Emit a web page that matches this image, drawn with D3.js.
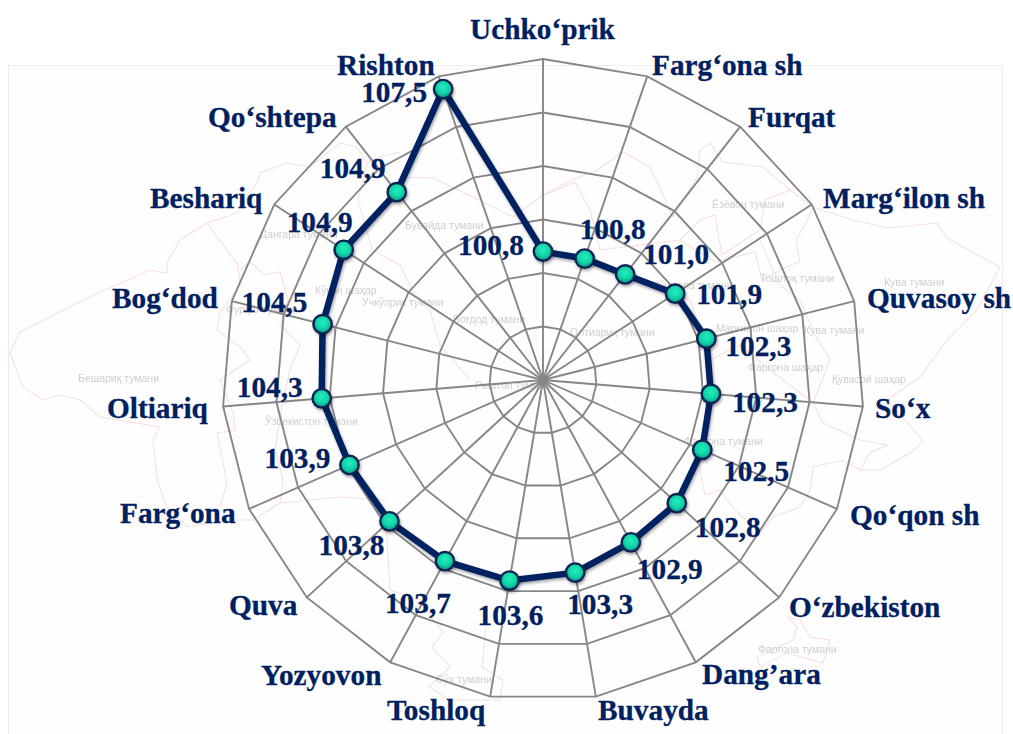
<!DOCTYPE html>
<html><head><meta charset="utf-8">
<script src="https://cdnjs.cloudflare.com/ajax/libs/d3/7.8.5/d3.min.js"></script>
<style>html,body{margin:0;padding:0;background:#fff;overflow:hidden}svg{display:block}</style>
</head><body>
<svg id="chart" width="1013" height="734"></svg>
<script>
// ---- data ----
const categories = ["Uchko‘prik","Farg‘ona sh","Furqat","Marg‘ilon sh","Quvasoy sh","So‘x","Qo‘qon sh","O‘zbekiston","Dang’ara","Buvayda","Toshloq","Yozyovon","Quva","Farg‘ona","Oltiariq","Bog‘dod","Beshariq","Qo‘shtepa","Rishton"];
const values = [100.8,100.8,101.0,101.9,102.3,102.3,102.5,102.8,102.9,103.3,103.6,103.7,103.8,103.9,104.3,104.5,104.9,104.9,107.5];
const ringTicks = [96,98,100,102,104,106,108];
const valueLabels = ["100,8","100,8","101,0","101,9","102,3","102,3","102,5","102,8","102,9","103,3","103,6","103,7","103,8","103,9","104,3","104,5","104,9","104,9","107,5"];
// ---- layout (label placement, separate from data) ----
const valueLabelOffsets = [[-85,3],[-5,-20],[18,-10],[21,10],[19,17],[21,18],[21,31],[18,34],[6,37],[-8,41],[-32,44],[-60,52],[-71,34],[-85,3],[-85,-1],[-81,-12],[-57,-18],[-77,-14],[-82,13]];
const catLabelPos = [[470,39],[652,75],[748,127],[823,208],[867,308],[875,418],[850,525],[789,617],[702,684],[598,720],[387,720],[261,685],[229,615],[120,523],[107,418],[112,308],[150,208],[208,127],[337,75]];
const cx = 543, cy = 380, outerR = 321;
// ---- decorative background map (faint) ----
const mapLines = [
 [[10,353],[20,332],[83,300],[150,270],[167,273],[167,263],[180,240],[207,223],[237,213],[257,183],[260,173],[287,163],[310,167],[340,143],[357,147],[367,163],[380,157],[400,152]],
 [[10,353],[23,387],[43,400],[60,395],[80,400],[100,417],[160,427],[153,440],[157,480],[167,507],[187,527],[230,520],[253,520],[280,503],[340,497],[385,500]],
 [[220,507],[227,483],[217,433],[235,430],[233,413],[220,380],[250,360],[240,347],[217,330],[220,313],[240,285],[238,265],[207,223]],
 [[240,270],[250,262],[265,275],[280,272],[288,300],[280,325],[300,345],[290,370],[283,400],[275,450],[283,480],[280,503]],
 [[367,163],[358,200],[372,250],[400,265],[412,290],[430,310],[440,345],[470,380]],
 [[400,177],[433,178],[473,197],[513,217],[540,197],[567,182],[597,170],[623,152],[650,167],[673,217],[697,177],[700,150],[710,143],[723,162],[763,167],[790,190],[813,207],[853,220],[887,228],[937,223],[947,238],[963,247],[1000,267],[977,310],[947,340],[920,377],[887,400],[920,437],[923,442],[910,453],[880,470],[860,470],[843,460],[813,467],[810,490],[800,507],[773,517],[760,533]],
 [[540,197],[575,182],[590,210],[600,250],[640,245],[680,240],[700,220],[715,215],[722,255],[760,230],[765,200],[790,190]],
 [[680,240],[715,262],[755,252],[762,280],[790,265],[800,262],[796,240],[805,225],[813,207]],
 [[760,240],[780,285],[800,300],[815,335],[830,360],[813,403],[823,423],[860,440],[887,445],[870,453],[860,470]],
 [[813,403],[770,370],[740,345],[710,360],[690,300],[650,285]],
 [[696,440],[700,470],[705,495],[720,490],[735,510],[760,533]],
 [[787,617],[797,627],[793,640],[757,657],[760,667],[787,653],[823,663],[830,640],[810,637],[800,620],[787,617]],
 [[386,520],[390,590],[420,600],[443,633],[432,647],[450,667],[429,687],[450,700],[500,700],[503,680],[482,667],[486,627]]
];
const mapText = ["Бешариқ тумани","Дангара тумани","Фурқат тумани","Кўқон шаҳар","Учкўприк тумани","Бувайда тумани","Боғдод тумани","Риштон тумани","Олтиариқ тумани","Ёзёвон тумани","Тошлоқ тумани","Кува тумани","Кува тумани","Марғилон шаҳар","Фарғона шаҳар","Қувасой шаҳар","Фарғона тумани","Фарғона тумани","Сўх тумани","Ўзбекистон тумани","Қўштепа тумани"];
const mapTextPos = [[78,382],[260,238],[226,313],[315,294],[362,306],[405,229],[453,323],[475,389],[570,336],[712,208],[760,282],[884,286],[804,334],[716,332],[748,371],[832,383],[684,445],[758,653],[436,683],[265,425],[653,289]];

const svg = d3.select("#chart");
const defs = svg.append("defs");
const grad = defs.append("radialGradient").attr("id","mk").attr("cx","50%").attr("cy","40%").attr("r","58%");
grad.append("stop").attr("offset","0%").attr("stop-color","#26ecc0");
grad.append("stop").attr("offset","60%").attr("stop-color","#10d4a6");
grad.append("stop").attr("offset","100%").attr("stop-color","#06968a");
const shadow = defs.append("filter").attr("id","sh").attr("x","-50%").attr("y","-50%").attr("width","200%").attr("height","200%");
shadow.append("feDropShadow").attr("dx",1).attr("dy",2).attr("stdDeviation",1.8).attr("flood-color","#000").attr("flood-opacity",0.35);
const soft = defs.append("filter").attr("id","soft");
soft.append("feGaussianBlur").attr("stdDeviation",0.45);

// frame
svg.append("rect").attr("x",8.5).attr("y",65.5).attr("width",994).attr("height",700)
  .attr("fill","#fefefe").attr("stroke","#ececec").attr("stroke-width",1);

// map
const mapG = svg.append("g").attr("filter","url(#soft)");
const mapLine = d3.line().curve(d3.curveLinear);
mapG.selectAll("path").data(mapLines).join("path")
  .attr("d",d=>mapLine(d)).attr("fill","none").attr("stroke","#f8dfdf").attr("stroke-width",1.1);
mapG.selectAll("text").data(mapText).join("text")
  .attr("x",(d,i)=>mapTextPos[i][0]).attr("y",(d,i)=>mapTextPos[i][1])
  .attr("font-family","Liberation Sans, Arial, sans-serif").attr("font-size",10.5)
  .attr("fill","#cfcfcf").text(d=>d);

// scales
const angle = d3.scaleLinear().domain([0,categories.length]).range([0,2*Math.PI]);
const radius = d3.scaleLinear().domain([96,108]).range([0,outerR]);
const g = svg.append("g").attr("transform",`translate(${cx},${cy})`);
const pt = (i,v)=>{const a=angle(i),r=radius(v);return [r*Math.sin(a),-r*Math.cos(a)];};

// grid
const ring = d3.lineRadial().angle((d,i)=>angle(i)).curve(d3.curveLinearClosed);
g.selectAll("path.ring").data(ringTicks.slice(1)).join("path").attr("class","ring")
  .attr("d",t=>ring.radius(radius(t))(categories))
  .attr("fill","none").attr("stroke","#868686").attr("stroke-width",1.9);
g.selectAll("line.spoke").data(categories).join("line").attr("class","spoke")
  .attr("x1",0).attr("y1",0)
  .attr("x2",(d,i)=>pt(i,108)[0]).attr("y2",(d,i)=>pt(i,108)[1])
  .attr("stroke","#868686").attr("stroke-width",1.9);

// series
const series = d3.lineRadial().angle((d,i)=>angle(i)).radius(d=>radius(d)).curve(d3.curveLinearClosed);
g.append("path").attr("d",series(values)).attr("fill","none").attr("stroke","#002060")
  .attr("stroke-width",6.5).attr("stroke-linejoin","round").attr("filter","url(#sh)");
g.selectAll("circle").data(values).join("circle")
  .attr("cx",(d,i)=>pt(i,d)[0]).attr("cy",(d,i)=>pt(i,d)[1]).attr("r",9.2)
  .attr("fill","url(#mk)").attr("stroke","#0d2454").attr("stroke-width",2.4).attr("filter","url(#sh)");

// value labels
const font = "Liberation Serif, Times New Roman, serif";
g.selectAll("text.val").data(valueLabels).join("text").attr("class","val")
  .attr("x",(d,i)=>pt(i,values[i])[0]+valueLabelOffsets[i][0])
  .attr("y",(d,i)=>pt(i,values[i])[1]+valueLabelOffsets[i][1])
  .attr("font-family",font).attr("font-weight","bold").attr("font-size",29.3)
  .attr("fill","#002060").attr("stroke","#002060").attr("stroke-width",0.3).text(d=>d);

// category labels
svg.selectAll("text.cat").data(categories).join("text").attr("class","cat")
  .attr("x",(d,i)=>catLabelPos[i][0]).attr("y",(d,i)=>catLabelPos[i][1])
  .attr("font-family",font).attr("font-weight","bold").attr("font-size",29.3)
  .attr("fill","#002060").attr("stroke","#002060").attr("stroke-width",0.3).text(d=>d);
</script>
</body></html>
